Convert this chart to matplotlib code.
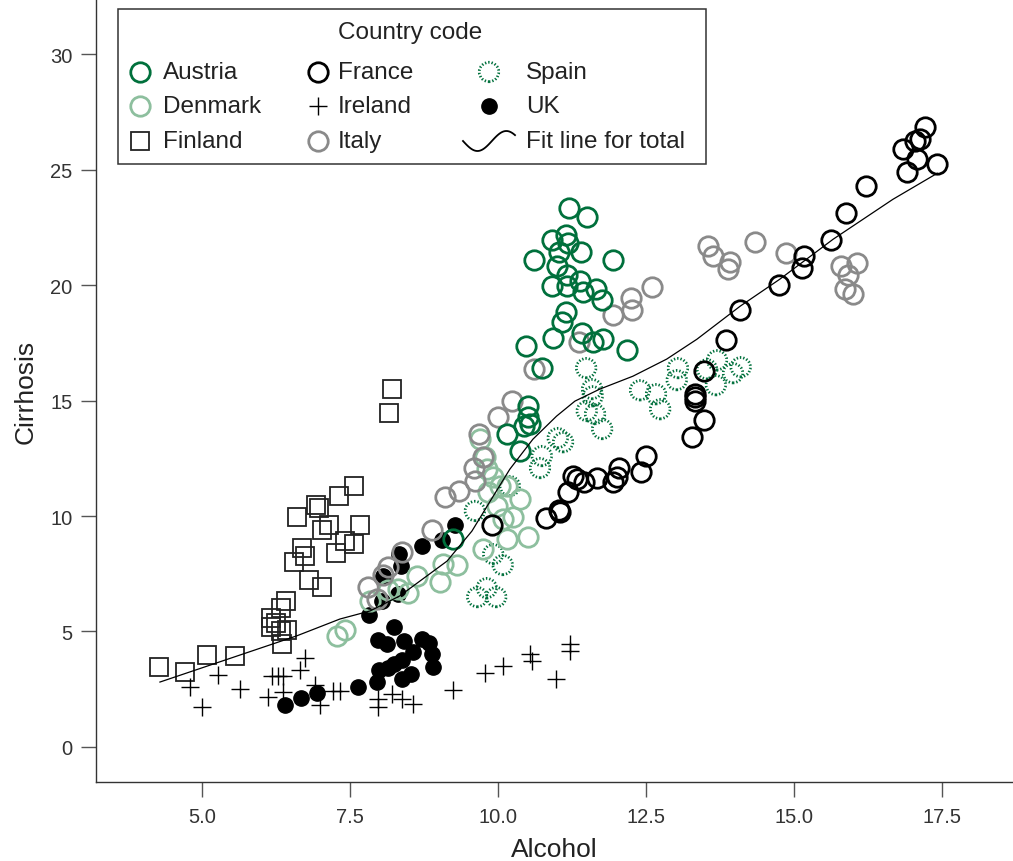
import numpy as np
import matplotlib.pyplot as plt
from matplotlib.patches import Rectangle

plt.rcParams['font.family'] = ['Liberation Sans', 'DejaVu Sans']

# values
austria_x = [11.20, 11.50, 10.91, 11.15, 11.18, 11.03, 11.40, 10.61, 11.00, 11.94, 11.17,
             10.91, 11.17, 11.39, 11.44, 11.66, 11.76, 11.15, 11.08, 10.93, 11.42, 11.60,
             11.77, 10.47, 12.18, 10.74, 10.51, 10.51, 10.54, 10.44, 10.15, 10.37, 9.24]
austria_y = [23.33, 22.94, 21.95, 22.16, 21.82, 21.43, 21.43, 21.08, 20.82, 21.08, 20.43,
             19.96, 19.96, 20.17, 19.70, 19.83, 19.35, 18.83, 18.40, 17.71, 17.92, 17.53,
             17.66, 17.36, 17.19, 16.41, 14.76, 14.29, 13.98, 13.90, 13.55, 12.81, 9.00]

denmark_x = [7.28, 7.42, 7.84, 8.14, 8.31, 8.48, 8.63, 9.02, 9.07, 9.31, 9.75, 10.15,
             10.51, 10.25, 10.08, 9.98, 9.83, 10.37, 10.03, 9.92, 9.81, 9.78, 9.70, 10.15]
denmark_y = [4.81, 5.06, 6.32, 6.80, 6.84, 6.67, 7.40, 7.14, 7.92, 7.88, 8.57, 9.00,
             9.09, 9.96, 9.87, 10.43, 11.04, 10.74, 11.30, 11.69, 12.03, 12.55, 13.33, 11.30]

finland_x = [7.57, 7.31, 6.93, 6.98, 6.60, 7.67, 7.15, 7.03, 7.42, 7.57, 7.26, 6.69, 6.74,
             6.55, 6.81, 7.03, 6.42, 6.33, 6.17, 6.17, 6.25, 6.33, 6.44, 6.35, 5.56, 5.08,
             4.71, 4.27, 8.21, 8.16]
finland_y = [11.30, 10.87, 10.48, 10.35, 9.96, 9.61, 9.61, 9.39, 8.92, 8.79, 8.40, 8.61, 8.27,
             8.01, 7.23, 6.93, 6.32, 6.02, 5.58, 5.19, 5.37, 5.02, 5.06, 4.46, 3.94, 3.98,
             3.25, 3.46, 15.50, 14.46]

france_x = [9.90, 10.81, 11.03, 11.05, 11.18, 11.27, 11.33, 11.45, 11.67, 11.94, 12.01, 12.04,
            12.42, 12.50, 13.28, 13.48, 13.33, 13.33, 13.33, 13.48, 13.85, 14.09, 14.75, 15.14,
            15.17, 15.63, 15.88, 16.22, 16.91, 16.84, 17.08, 17.04, 17.13, 17.21, 17.42]
france_y = [9.61, 9.91, 10.26, 10.17, 11.04, 11.73, 11.60, 11.47, 11.65, 11.47, 11.69, 12.08,
            11.90, 12.60, 13.42, 14.16, 15.28, 15.15, 14.98, 16.28, 17.62, 18.92, 20.00, 20.74,
            21.26, 21.95, 23.12, 24.29, 24.89, 25.89, 25.45, 26.23, 26.32, 26.84, 25.24]

ireland_x = [4.80, 5.00, 5.27, 5.64, 6.11, 6.18, 6.28, 6.37, 6.37, 6.66, 6.74, 6.91, 6.99, 7.21,
             7.33, 7.97, 7.97, 8.21, 8.38, 8.56, 9.24, 9.78, 10.08, 10.54, 10.57, 10.98,
             11.22, 11.22]
ireland_y = [2.60, 1.73, 3.12, 2.51, 2.16, 3.07, 3.07, 3.07, 2.38, 3.33, 3.85, 2.68, 1.82, 2.42,
             2.42, 2.08, 1.73, 2.29, 2.08, 1.86, 2.47, 3.20, 3.51, 4.03, 3.72, 2.94,
             4.46, 4.16]

italy_x = [7.80, 7.96, 8.06, 8.14, 8.38, 8.89, 9.10, 9.34, 9.59, 9.61, 9.75, 9.68, 10.00, 10.24,
           10.61, 11.37, 11.94, 12.26, 12.25, 12.60, 13.55, 13.63, 13.92, 13.89, 14.34, 14.86,
           15.79, 16.06, 15.91, 15.86, 16.00]
italy_y = [6.93, 6.41, 7.45, 7.79, 8.44, 9.39, 10.82, 11.08, 12.08, 11.52, 12.55, 13.55, 14.29,
           14.98, 16.36, 17.53, 18.70, 18.92, 19.44, 19.91, 21.69, 21.26, 21.00, 20.69, 21.86,
           21.39, 20.82, 20.95, 20.43, 19.83, 19.61]

spain_x = [11.49, 11.59, 11.60, 11.50, 11.64, 11.76, 11.01, 11.10, 10.74, 10.71, 12.40, 12.67,
           12.74, 13.04, 13.02, 13.70, 13.53, 13.68, 14.10, 13.97, 10.20, 9.61, 9.92, 10.08,
           9.65, 9.97, 9.81]
spain_y = [16.41, 15.50, 15.19, 14.55, 14.42, 13.77, 13.38, 13.20, 12.60, 12.08, 15.45, 15.28,
           14.63, 16.41, 15.89, 16.75, 16.36, 15.67, 16.45, 16.19, 11.30, 10.22, 8.35, 7.88,
           6.49, 6.49, 6.88]

uk_x = [9.27, 9.05, 8.72, 8.33, 8.36, 8.06, 8.31, 8.04, 7.82, 8.24, 7.97, 8.13, 8.41, 8.72,
        8.83, 8.89, 8.90, 8.56, 8.38, 8.24, 8.14, 7.99, 8.53, 8.38, 7.96, 7.64, 6.94, 6.67, 6.40]
uk_y = [9.61, 8.96, 8.70, 8.35, 7.84, 7.40, 6.62, 6.32, 5.71, 5.19, 4.63, 4.46, 4.59, 4.68,
        4.50, 4.03, 3.46, 4.11, 3.77, 3.59, 3.42, 3.33, 3.16, 2.94, 2.81, 2.60, 2.34, 2.12, 1.82]

fit_x = [4.29, 6.60, 7.33, 7.84, 8.34, 9.14, 9.56, 9.86, 10.20, 10.59, 10.99, 11.30, 11.72,
         12.28, 12.85, 13.36, 14.09, 14.76, 15.66, 16.67, 17.42]
fit_y = [2.81, 4.81, 5.54, 5.89, 6.54, 8.05, 9.35, 10.61, 12.03, 13.33, 14.33, 14.98, 15.50,
         16.06, 16.80, 17.66, 19.09, 20.26, 21.99, 23.72, 24.85]

dark_green = '#00703c'
light_green = '#8dbf9e'
grey = '#8a8a8a'

W, H = 1013, 862
fig = plt.figure(figsize=(W / 100, H / 100), dpi=100)
ax = fig.add_axes([96 / W, 79 / H, 1 - 96 / W, 1 - 79 / H])

circ = dict(marker='o', ms=14, mfc='none', mew=2.0, ls='none')
square = dict(marker='s', ms=12.5, mfc='none', mec='#222222', mew=1.3, ls='none')
plus = dict(marker='+', ms=13.5, mec='black', mew=1.0, ls='none')
dot = dict(marker='o', ms=11, mfc='black', mec='black', ls='none')
spain_style = dict(s=196, facecolors='none', edgecolors=dark_green,
                   linewidths=2.0, linestyles=(0, (0.5, 0.7)))

ax.plot(finland_x, finland_y, **square)
ax.plot(ireland_x, ireland_y, **plus)
ax.plot(uk_x, uk_y, **dot)
ax.plot(denmark_x, denmark_y, mec=light_green, **circ)
ax.plot(italy_x, italy_y, mec=grey, **circ)
ax.scatter(spain_x, spain_y, **spain_style)
ax.plot(austria_x, austria_y, mec=dark_green, **circ)
ax.plot(france_x, france_y, mec='black', **circ)
ax.plot(fit_x, fit_y, color='black', lw=0.9)

ax.set_xlim(3.21, 18.7)
ax.set_ylim(-1.52, 32.4)
ax.set_xticks([5.0, 7.5, 10.0, 12.5, 15.0, 17.5])
ax.set_xticklabels(['5.0', '7.5', '10.0', '12.5', '15.0', '17.5'])
ax.set_yticks([0, 5, 10, 15, 20, 25, 30])
ax.spines['top'].set_visible(False)
ax.spines['right'].set_visible(False)
for s in ('left', 'bottom'):
    ax.spines[s].set_linewidth(1.0)
    ax.spines[s].set_color('#333333')
ax.tick_params(axis='both', direction='out', length=11, width=1.0, color='#555555',
               labelsize=14.5, labelcolor='#333333')
ax.tick_params(axis='x', pad=7)
ax.tick_params(axis='y', pad=6)
ax.set_xlabel('Alcohol', fontsize=19, color='#222222', labelpad=8)
ax.set_ylabel('Cirrhosis', fontsize=19, color='#222222', labelpad=9)

# legend drawn in pixel space
lg = fig.add_axes([0, 0, 1, 1], zorder=5)
lg.set_xlim(0, W)
lg.set_ylim(H, 0)
lg.axis('off')
lg.add_patch(Rectangle((118, 10), 588, 155, facecolor='white', edgecolor='#333333', lw=1.1))
lg.text(410, 33, 'Country code', fontsize=17.5, ha='center', va='center', color='#222222')

rows = [73, 107, 142]
entries = [
    (140, 163, rows[0], 'Austria', dict(mec=dark_green, **circ)),
    (140, 163, rows[1], 'Denmark', dict(mec=light_green, **circ)),
    (140, 163, rows[2], 'Finland', square),
    (318, 338, rows[0], 'France', dict(mec='black', **circ)),
    (318, 338, rows[1], 'Ireland', plus),
    (318, 338, rows[2], 'Italy', dict(mec=grey, **circ)),
    (489, 526, rows[1], 'UK', dot),
]
for mx, tx, y, label, style in entries:
    lg.plot([mx], [y], **style)
    lg.text(tx, y, label, fontsize=17.5, va='center', ha='left', color='#222222')

lg.scatter([489], [rows[0]], **spain_style)
lg.text(526, rows[0], 'Spain', fontsize=17.5, va='center', ha='left', color='#222222')

t = np.linspace(0, 0.9, 60)
lg.plot(463 + 52 * t / 0.9, 142 + 10 * np.sin(2 * np.pi * t), color='black', lw=1.3)
lg.text(526, rows[2], 'Fit line for total', fontsize=17.5, va='center', ha='left', color='#222222')

fig.savefig('out.png', dpi=100)
